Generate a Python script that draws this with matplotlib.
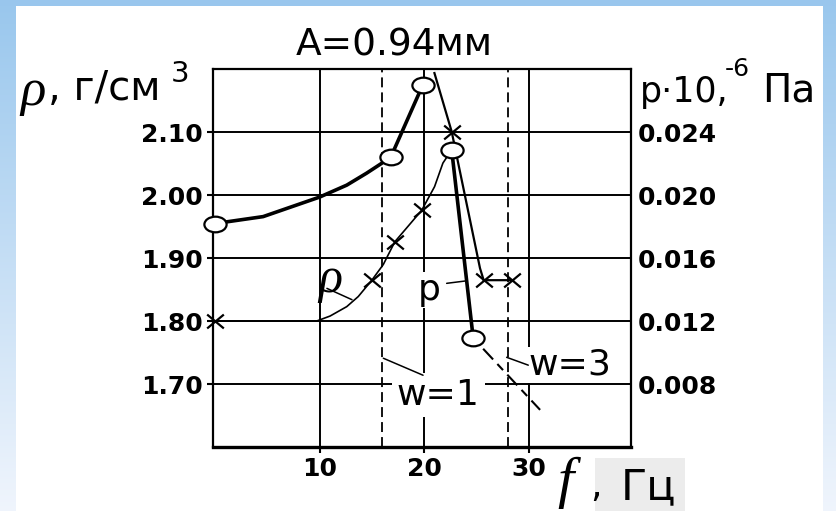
import numpy as np
import matplotlib
matplotlib.use('Agg')
import matplotlib.pyplot as plt
from matplotlib.path import Path
from matplotlib.patches import Rectangle


# значения (f, Гц; ρ, г/см3)
# толстая кривая с кружками
f_thick = [0, 4.6, 10.0, 12.6, 14.5, 16.8, 19.87]
rho_thick = [1.955, 1.966, 1.997, 2.016, 2.035, 2.06, 2.175]

# тонкая кривая (ρ)
f_thin = [0, 4.3, 9.7, 11.0, 12.6, 13.7, 15.0, 16.1, 17.2, 19.77, 21.0, 21.8, 22.64]
rho_thin = [1.80, 1.80, 1.80, 1.808, 1.823, 1.839, 1.865, 1.89, 1.926, 1.976, 2.0135, 2.051, 2.072]

# кривая с крестиками после пика
f_p = [20.99, 22.64, 25.35, 25.7, 28.4]
rho_p = [2.194, 2.101, 1.884, 1.865, 1.865]

# спад (p)
f_drop = [22.64, 24.7]
rho_drop = [2.072, 1.773]

# штрихпунктир
f_tail = [24.7, 31.1]
rho_tail = [1.773, 1.659]

# маркеры
f_circles = [0, 16.8, 19.87, 22.64, 24.7]
rho_circles = [1.955, 2.06, 2.175, 2.072, 1.773]
f_crosses = [0, 15.0, 17.2, 19.77, 22.64, 25.7, 28.4]
rho_crosses = [1.80, 1.865, 1.926, 1.976, 2.101, 1.865, 1.865]

# резонансы w=1, w=3
f_w = [16, 28]

x_ticks = [10, 20, 30]
rho_ticks = [1.70, 1.80, 1.90, 2.00, 2.10]
p_ticks = [0.008, 0.012, 0.016, 0.020, 0.024]


W, H = 836, 511
plt.rcParams['font.family'] = ['DejaVu Sans']
fig = plt.figure(figsize=(W / 100, H / 100), dpi=100)

# голубая рамка
bg = np.ones((H, W, 3))
c_top = np.array([0.60, 0.78, 0.93])
c_low = np.array([0.94, 0.96, 0.99])
t = np.linspace(0, 1, H)[:, None]
side = c_top * (1 - t) + c_low * t
bg[:, :16] = side[:, None, :]
bg[:, 823:] = side[:, None, :]
bg[:6] = c_top
im = fig.figimage(bg, xo=0, yo=0, origin='upper')
im.set_zorder(-5)

# серый прямоугольник под "Гц"
fig.add_artist(Rectangle((595 / W, 0), 90 / W, 53 / H, transform=fig.transFigure,
                         facecolor='#ececec', edgecolor='none', zorder=-1))

ax = fig.add_axes([213 / W, 1 - 447 / H, 418 / W, 377.7 / H])
ax.set_xlim(-0.2, 39.8)
ax.set_ylim(1.60, 2.20)
ax.set_xticks(x_ticks)
ax.set_xticklabels([str(v) for v in x_ticks])
ax.set_yticks(rho_ticks)
ax.set_yticklabels(['%.2f' % v for v in rho_ticks])
ax.grid(True, color='black', lw=1.4)
ax.set_axisbelow(True)
ax.tick_params(direction='out', length=4.5, width=1.5, labelsize=18, pad=3)
for lab in ax.get_xticklabels() + ax.get_yticklabels():
    lab.set_fontweight('bold')
for s in ax.spines.values():
    s.set_linewidth(1.6)
ax.spines['bottom'].set_linewidth(2.4)

ax2 = ax.twinx()
ax2.set_ylim(0.004, 0.028)
ax2.set_yticks(p_ticks)
ax2.set_yticklabels(['%.3f' % v for v in p_ticks])
ax2.tick_params(length=0, labelsize=18, pad=5)
for lab in ax2.get_yticklabels():
    lab.set_fontweight('bold')
for s in ax2.spines.values():
    s.set_visible(False)

# вертикальные штриховые линии
for fw in f_w:
    ax.axvline(fw, color='black', lw=1.3, ls=(0, (5.5, 2.8)), zorder=1.5)

# кривые
ax.plot(f_thick, rho_thick, color='black', lw=2.6)
ax.plot(f_thin, rho_thin, color='black', lw=1.2)
ax.plot(f_p, rho_p, color='black', lw=1.6)
ax.plot(f_drop, rho_drop, color='black', lw=2.6)
ax.plot(f_tail, rho_tail, color='black', lw=1.5, ls=(0, (4, 3, 7, 3)))

circ = Path.unit_circle()
ell = Path(circ.vertices * [1.42, 1.0], circ.codes)
cross = Path([(-1.2, -1), (1.2, 1), (-1.2, 1), (1.2, -1)],
             [Path.MOVETO, Path.LINETO, Path.MOVETO, Path.LINETO])
ax.plot(f_circles, rho_circles, ls='none', marker=ell, ms=16, mfc='white',
        mec='black', mew=1.6, zorder=5, clip_on=False)
ax.plot(f_crosses, rho_crosses, ls='none', marker=cross, ms=12, mec='black',
        mew=1.6, zorder=5, clip_on=False)

# подписи на поле
wb = dict(facecolor='white', edgecolor='none', pad=1)
ax.text(11.0, 1.865, 'ρ', fontsize=36, family='Liberation Serif', style='italic',
        ha='center', va='center')
ax.text(19.43, 1.8335, 'p', fontsize=26, ha='left', va='baseline', bbox=wb)
ax.text(17.4, 1.6667, 'w=1', fontsize=26, ha='left', va='baseline',
        bbox=dict(facecolor='white', edgecolor='none', pad=4))
ax.text(29.97, 1.7144, 'w=3', fontsize=26, ha='left', va='baseline', bbox=wb)

lead = dict(arrowstyle='-', lw=1.1, color='black', shrinkA=0, shrinkB=0)
ax.annotate('', xy=(13.1, 1.834), xytext=(10.7, 1.852), arrowprops=lead)
ax.annotate('', xy=(24.08, 1.864), xytext=(22.16, 1.860), arrowprops=lead)
ax.annotate('', xy=(19.9, 1.714), xytext=(16.1, 1.741), arrowprops=lead)
ax.annotate('', xy=(29.97, 1.730), xytext=(27.9, 1.7425), arrowprops=lead)

# подписи осей и заголовок
fig.text(394 / W, 1 - 56 / H, 'A=0.94мм', fontsize=27, ha='center', va='baseline')
fig.text(20 / W, 1 - 105 / H, 'ρ', fontsize=38, family='Liberation Serif',
         style='italic', va='baseline')
fig.text(48 / W, 1 - 100 / H, ', г/см', fontsize=29, va='baseline')
fig.text(171 / W, 1 - 82 / H, '3', fontsize=21, va='baseline')
fig.text(640 / W, 1 - 101.7 / H, 'p·10,', fontsize=25, va='baseline')
fig.text(725 / W, 1 - 76 / H, '-6', fontsize=18, va='baseline')
fig.text(762 / W, 1 - 101.7 / H, 'Па', fontsize=28, va='baseline')
fig.text(557 / W, 1 - 497 / H, 'f', fontsize=42, family='Liberation Serif',
         style='italic', va='baseline')
fig.text(590 / W, 1 - 497 / H, ',', fontsize=26, va='baseline')
fig.text(621 / W, 1 - 499 / H, 'Гц', fontsize=31, va='baseline')

fig.savefig('out.png', dpi=100)
